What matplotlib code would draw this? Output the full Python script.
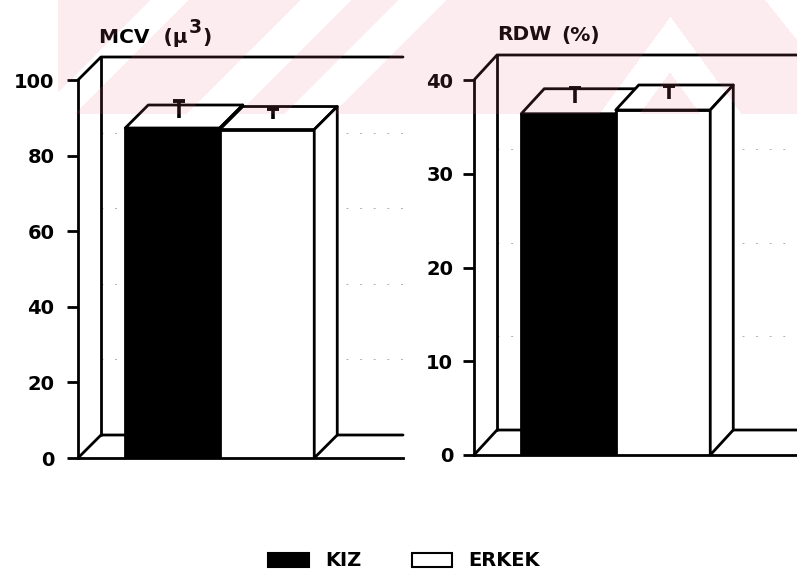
import numpy as np
import matplotlib
matplotlib.use("Agg")
import matplotlib.pyplot as plt
from matplotlib.patches import Polygon, Patch

# Group means and standard deviations
groups = ["KIZ", "ERKEK"]
mcv_mean = [87.3, 86.9]
mcv_sd = [4.5, 2.6]
rdw_mean = [36.4, 36.8]
rdw_sd = [1.6, 1.4]
mcv_ticks = [0, 20, 40, 60, 80, 100]
rdw_ticks = [0, 10, 20, 30, 40]
bar_colors = ["black", "white"]

W, H = 797, 581
DPI = 100
fig = plt.figure(figsize=(W / DPI, H / DPI), dpi=DPI)
fig.patch.set_facecolor("white")

FONT = "DejaVu Sans"
LW = 2.0
X_UNIT = 94.5  # pixels per category slot


def px_axes(left, top, right, bottom):
    return fig.add_axes([left / W, 1 - bottom / H, (right - left) / W, (bottom - top) / H])


def ftext(x, y, s, size, **kw):
    return fig.text(x / W, 1 - y / H, s, fontsize=size, fontfamily=FONT,
                    fontweight="bold", ha="left", va="baseline", **kw)


def panel(box, ytop_px, ticks, means, sds, depth_px, pad):
    left, top, right, bottom = box
    ax = px_axes(left, top, right, bottom)
    ax.set_facecolor("none")
    top_val = ticks[-1]
    ppu = (bottom - ytop_px) / top_val
    ax.set_ylim(0, (bottom - top) / ppu)
    ax.set_xlim(0, (right - left) / X_UNIT)
    xmax = ax.get_xlim()[1]
    dx = depth_px[0] / X_UNIT
    dy = depth_px[1] / ppu
    line = dict(color="black", lw=LW, solid_capstyle="round", clip_on=False)

    # walls and floor
    ax.plot([0, dx, xmax], [top_val, top_val + dy, top_val + dy], zorder=1, **line)
    ax.plot([dx, dx], [dy, top_val + dy], zorder=1, **line)
    ax.plot([0, dx, xmax], [0, dy, dy], zorder=1, **line)
    for v in ticks[1:-1]:
        ax.plot([dx, xmax], [v + dy, v + dy], color="#b0b0b0", lw=0.7,
                linestyle=(0, (2, 12)), zorder=0.5)

    # 3-D bars
    pos = np.arange(1, len(means) + 1)
    for i, (p, h, c, g) in enumerate(zip(pos, means, bar_colors, groups)):
        z = 3 + 2 * i
        ax.bar([p], [h], width=1.0, color=c, edgecolor="black", lw=LW,
               zorder=z, label=g)
        x0, x1 = p - 0.5, p + 0.5
        top_face = [(x0, h), (x0 + dx, h + dy), (x1 + dx, h + dy), (x1, h)]
        side_face = [(x1, 0), (x1 + dx, dy), (x1 + dx, h + dy), (x1, h)]
        for pts in (top_face, side_face):
            ax.add_patch(Polygon(pts, closed=True, facecolor="white",
                                 edgecolor="black", lw=LW, zorder=z,
                                 joinstyle="round"))

    # upper standard-deviation whiskers standing on the bar tops
    ex = pos + 0.28 * dx
    ey = np.array(means) + 0.45 * dy
    ax.errorbar(ex, ey, yerr=[np.zeros(len(sds)), sds], fmt="none",
                ecolor="black", elinewidth=2.6, capsize=0, zorder=10)
    ax.plot(ex, ey + np.array(sds), linestyle="none", marker="_",
            markersize=8, markeredgewidth=2.8, color="black", zorder=10)

    # axis styling
    for s in ("top", "right"):
        ax.spines[s].set_visible(False)
    ax.spines["left"].set_bounds(0, top_val)
    for s in ("left", "bottom"):
        ax.spines[s].set_linewidth(LW)
        ax.spines[s].set_zorder(2)
    ax.set_xticks([])
    ax.set_yticks(ticks)
    ax.set_yticklabels([str(t) for t in ticks])
    ax.tick_params(axis="y", length=8, width=LW, pad=pad, labelsize=14)
    for lab in ax.get_yticklabels():
        lab.set_fontweight("bold")
        lab.set_fontfamily(FONT)
    return ax


ax1 = panel((78, 45, 403, 458), 80, mcv_ticks, mcv_mean, mcv_sd, (23, 23), 9)
ax2 = panel((474, 45, 797, 455), 80, rdw_ticks, rdw_mean, rdw_sd, (23, 25), 7)

# panel titles
t_mcv = ftext(99, 43, "MCV  (μ", 14.5)
fig.canvas.draw()
bb = t_mcv.get_window_extent()
t_exp = ftext(bb.x1 + 1, 33, "3", 13.5)
fig.canvas.draw()
bb3 = t_exp.get_window_extent()
ftext(bb3.x1 + 1, 43, ")", 14.5)
ftext(497, 40, "RDW", 14.5)
ftext(561, 41, "(%)", 14.5)

# legend
handles = [Patch(facecolor="black", edgecolor="black", lw=1.5),
           Patch(facecolor="white", edgecolor="black", lw=1.5)]
fig.legend(handles, groups, loc="center", bbox_to_anchor=(404 / W, 1 - 561 / H),
           ncol=2, frameon=False, handlelength=2.1, handleheight=0.75,
           handletextpad=0.8, columnspacing=2.6,
           prop=dict(family=FONT, weight="bold", size=14))

# faint page watermark band across the top
yy, xx = np.mgrid[0:H, 0:W].astype(float)
band = (yy <= 113) & (xx >= 58)
s = xx + yy
white = ((s >= 150) & (s <= 187)) | ((s >= 300) & (s <= 350)) | ((s >= 398) & (s <= 445))
a = xx + 0.73 * yy
b = xx - 0.73 * yy
white |= (a >= 682) & (a <= 722) & (xx <= 670) & (yy >= 15)
white |= (b >= 617) & (b <= 658) & (xx >= 670) & (yy >= 15)
white |= (xx - 0.8 * yy) >= 765
mask = band & ~white
rgba = np.zeros((H, W, 4))
rgba[..., 0] = 240 / 255
rgba[..., 1] = 110 / 255
rgba[..., 2] = 135 / 255
rgba[..., 3] = 0.13 * mask
fig.figimage(rgba, xo=0, yo=0, origin="upper", zorder=20)

fig.savefig("out.png", dpi=DPI, facecolor="white")
